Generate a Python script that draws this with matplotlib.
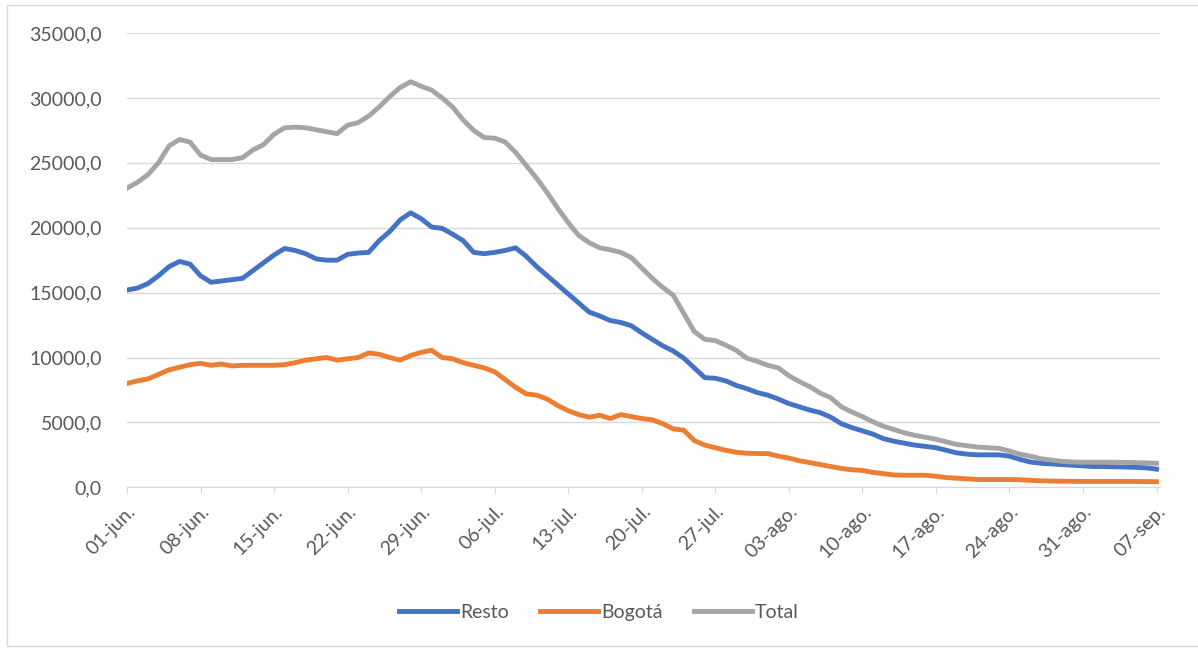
import datetime as dt

import matplotlib.pyplot as plt
from matplotlib.patches import Rectangle
from matplotlib.ticker import FuncFormatter, MultipleLocator

# daily values 01-jun .. 07-sep
start = dt.date(2020, 6, 1)
resto = [15200, 15350, 15700, 16300, 17000, 17400, 17200, 16300, 15800, 15900,
         16000, 16100, 16700, 17300, 17900, 18400, 18250, 18000, 17600, 17500,
         17500, 17950, 18050, 18100, 19000, 19700, 20600, 21150, 20700, 20050,
         19950, 19500, 19000, 18100, 18000, 18100, 18250, 18450, 17800, 17000,
         16300, 15600, 14900, 14200, 13500, 13200, 12850, 12700, 12450, 11900,
         11400, 10900, 10500, 9950, 9200, 8450, 8400, 8200, 7850, 7600,
         7300, 7100, 6800, 6450, 6200, 5950, 5750, 5400, 4900, 4600,
         4350, 4100, 3750, 3550, 3400, 3250, 3150, 3050, 2850, 2650,
         2550, 2500, 2500, 2500, 2400, 2150, 1950, 1850, 1800, 1750,
         1700, 1650, 1600, 1600, 1580, 1560, 1540, 1500, 1400]
bogota = [8000, 8200, 8350, 8700, 9050, 9250, 9450, 9550, 9400, 9500,
          9350, 9400, 9400, 9400, 9400, 9450, 9600, 9800, 9900, 10000,
          9800, 9900, 10000, 10350, 10250, 10000, 9800, 10150, 10400, 10550,
          10000, 9900, 9600, 9400, 9200, 8900, 8300, 7700, 7200, 7100,
          6800, 6300, 5900, 5600, 5400, 5550, 5300, 5600, 5450, 5300,
          5200, 4900, 4500, 4400, 3600, 3250, 3050, 2850, 2700, 2620,
          2600, 2600, 2400, 2250, 2050, 1900, 1750, 1600, 1450, 1350,
          1300, 1150, 1050, 950, 930, 930, 930, 850, 750, 700,
          650, 600, 600, 600, 600, 580, 540, 500, 480, 470,
          460, 450, 450, 450, 450, 450, 450, 440, 430]
total = [23050, 23500, 24100, 25000, 26300, 26800, 26600, 25600, 25250, 25250,
         25250, 25400, 26000, 26400, 27200, 27700, 27750, 27700, 27550, 27400,
         27250, 27900, 28100, 28600, 29300, 30100, 30800, 31250, 30900, 30600,
         30000, 29300, 28300, 27500, 26950, 26900, 26600, 25800, 24800, 23800,
         22700, 21500, 20400, 19400, 18850, 18450, 18300, 18100, 17700, 16900,
         16100, 15400, 14800, 13400, 12000, 11400, 11300, 10950, 10550, 9950,
         9700, 9400, 9200, 8600, 8150, 7750, 7250, 6900, 6200, 5800,
         5450, 5050, 4700, 4450, 4200, 4000, 3850, 3700, 3500, 3300,
         3200, 3100, 3050, 3000, 2800, 2550, 2400, 2200, 2100, 2000,
         1950, 1930, 1930, 1930, 1930, 1920, 1900, 1880, 1850]

months = {6: 'jun.', 7: 'jul.', 8: 'ago.', 9: 'sep.'}
days = list(range(len(resto)))
tick_pos = days[::7]
tick_labels = []
for d in tick_pos:
    day = start + dt.timedelta(days=d)
    tick_labels.append('%02d-%s' % (day.day, months[day.month]))

plt.rcParams['font.family'] = ['Lato', 'DejaVu Sans']

fig = plt.figure(figsize=(11.98, 6.48), dpi=100)
ax = fig.add_axes([0.106, 0.248, 0.862, 0.701])

ax.plot(days, resto, color='#4472C4', lw=3.5, label='Resto', solid_joinstyle='round')
ax.plot(days, bogota, color='#ED7D31', lw=3.5, label='Bogotá', solid_joinstyle='round')
ax.plot(days, total, color='#A5A5A5', lw=3.5, label='Total', solid_joinstyle='round')

ax.set_xlim(0, 98.3)
ax.set_ylim(0, 35000)
ax.yaxis.set_major_locator(MultipleLocator(5000))
ax.yaxis.set_major_formatter(FuncFormatter(lambda v, p: ('%.1f' % v).replace('.', ',')))
ax.grid(axis='y', color='#D9D9D9', lw=1)
ax.set_axisbelow(True)

ax.set_xticks(tick_pos)
ax.set_xticklabels(tick_labels, rotation=45, ha='right', rotation_mode='anchor')
ax.tick_params(axis='x', colors='#595959', labelsize=14, length=4, color='#D9D9D9', pad=7)
ax.tick_params(axis='y', colors='#595959', labelsize=14, length=0, pad=18)

for side in ['top', 'right', 'left']:
    ax.spines[side].set_visible(False)
ax.spines['bottom'].set_color('#D9D9D9')

leg = fig.legend(loc='center', bbox_to_anchor=(0.5, 0.055), ncol=3, frameon=False,
                 fontsize=14, handlelength=3.0, handletextpad=0.15, columnspacing=1.6)
for t in leg.get_texts():
    t.set_color('#595959')

fig.patches.append(Rectangle((7 / 1198, 2 / 648), 1.0, 641 / 648, transform=fig.transFigure,
                             fill=False, edgecolor='#D9D9D9', lw=1))

fig.savefig('out.png', dpi=100)
